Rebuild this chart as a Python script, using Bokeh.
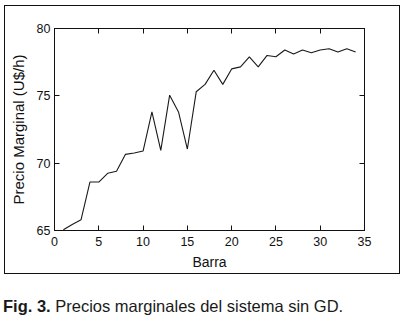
from bokeh.plotting import figure
from bokeh.models import LinearAxis, Range1d, Div, FixedTicker
from bokeh.layouts import column
from bokeh.embed import file_html
from bokeh.resources import INLINE

barra = list(range(1, 35))
precio = [65.05, 65.45, 65.8, 68.6, 68.6, 69.25, 69.4, 70.65, 70.75, 70.9,
          73.8, 70.95, 75.05, 73.8, 71.05, 75.3, 75.85, 76.9, 75.85, 77.0,
          77.15, 77.9, 77.15, 78.0, 77.9, 78.4, 78.1, 78.4, 78.2, 78.4,
          78.5, 78.25, 78.5, 78.25]
x_ticks = [0, 5, 10, 15, 20, 25, 30, 35]
y_ticks = [65, 70, 75, 80]
x_label = "Barra"
y_label = "Precio Marginal (U$/h)"
caption_bold = "Fig. 3."
caption_rest = "Precios marginales del sistema sin GD."

SANS = "Liberation Sans"

p = figure(width=396, height=269, output_backend="svg", toolbar_location=None,
           x_range=Range1d(0, 35), y_range=Range1d(65, 80),
           min_border_left=49, min_border_right=37, min_border_top=22,
           min_border_bottom=45, background_fill_color="white",
           border_fill_color="white")
p.styles = {"border": "1px solid #111"}
p.grid.visible = False
p.outline_line_color = "#111"

p.line(barra, precio, line_color="#1a1a1a", line_width=1.1)

for ax in (p.xaxis[0], p.yaxis[0]):
    ax.axis_line_color = "#111"
    ax.major_tick_line_color = "#111"
    ax.major_tick_in = 5
    ax.major_tick_out = 0
    ax.minor_tick_line_color = None
    ax.major_label_text_font = SANS
    ax.major_label_text_font_size = "12.5px"
    ax.major_label_text_color = "#111"
    ax.axis_label_text_color = "#111"
    ax.axis_label_text_font = SANS
    ax.axis_label_text_font_style = "normal"

p.xaxis[0].ticker = FixedTicker(ticks=x_ticks)
p.yaxis[0].ticker = FixedTicker(ticks=y_ticks)
p.xaxis[0].axis_label = x_label
p.xaxis[0].axis_label_text_font_size = "14px"
p.xaxis[0].major_label_standoff = 6
p.xaxis[0].axis_label_standoff = 5
p.yaxis[0].axis_label = y_label
p.yaxis[0].axis_label_text_font_size = "15px"
p.yaxis[0].major_label_standoff = 4
p.yaxis[0].axis_label_standoff = 7

top = LinearAxis(ticker=FixedTicker(ticks=x_ticks), major_label_text_color=None,
                 major_tick_in=5, major_tick_out=0, minor_tick_line_color=None,
                 axis_line_color="#111", major_tick_line_color="#111", major_label_standoff=0)
right = LinearAxis(ticker=FixedTicker(ticks=y_ticks), major_label_text_color=None,
                   major_tick_in=5, major_tick_out=0, minor_tick_line_color=None,
                   axis_line_color="#111", major_tick_line_color="#111", major_label_standoff=0)
p.add_layout(top, "above")
p.add_layout(right, "right")

cap = Div(text=f"<b>{caption_bold}</b> {caption_rest}", width=398, height=24,
          styles={"font-family": SANS, "font-size": "16.5px", "color": "#1a1a1a",
                  "margin-top": "21px", "margin-left": "-1px"})

layout = column(p, cap, spacing=0, styles={"margin-left": "4px", "margin-top": "5px"})

open("out.html", "w").write(file_html(layout, INLINE))
